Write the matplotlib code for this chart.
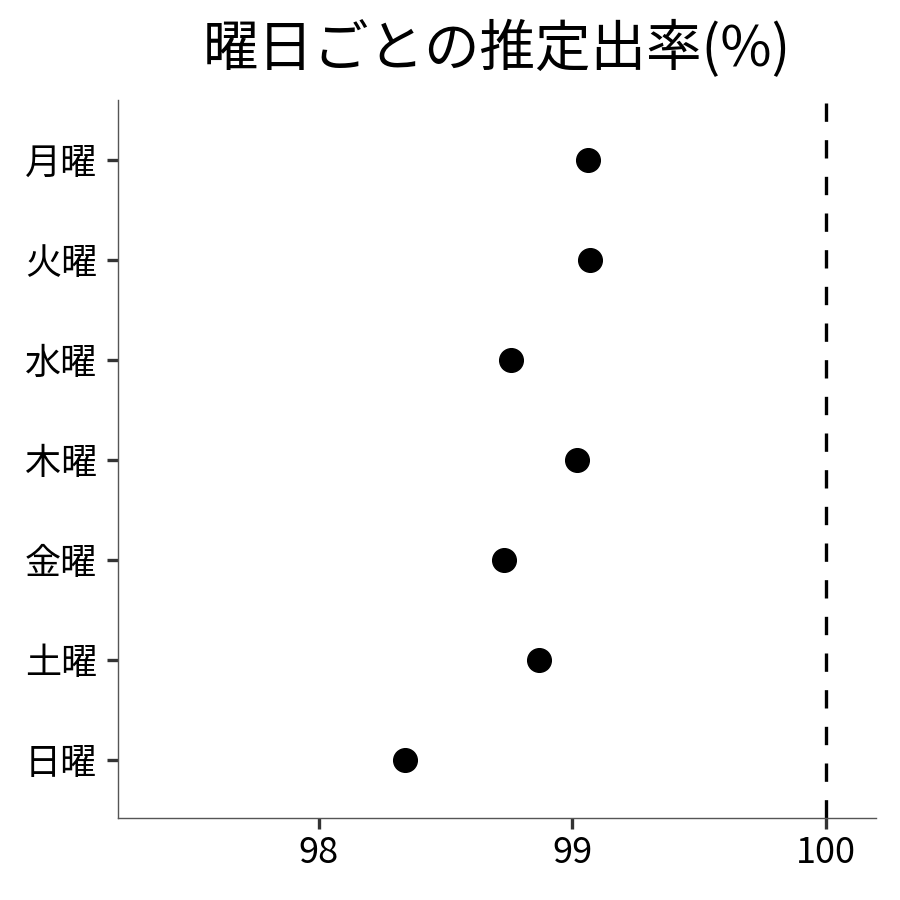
import matplotlib
matplotlib.use("Agg")
import matplotlib.pyplot as plt

plt.rcParams['font.family'] = ['Noto Sans CJK JP', 'DejaVu Sans']

days = ['月曜', '火曜', '水曜', '木曜', '金曜', '土曜', '日曜']
rates = [99.06, 99.07, 98.76, 99.02, 98.73, 98.87, 98.34]
x_ticks = [98, 99, 100]

fig, ax = plt.subplots(figsize=(9, 9), dpi=100)
fig.subplots_adjust(left=0.131, right=0.973, top=0.889, bottom=0.091)

ypos = list(range(len(days)))
ax.scatter(rates, ypos, s=290, color='black', zorder=3)
ax.axvline(100, color='black', lw=2.4, ls=(0, (5.5, 5.5)))

ax.set_yticks(ypos)
ax.set_yticklabels(days)
ax.set_xticks(x_ticks)
ax.set_xticklabels([str(v) for v in x_ticks])
ax.set_xlim(97.207, 100.197)
ax.set_ylim(6.58, -0.6)

for side in ['top', 'right']:
    ax.spines[side].set_visible(False)
for side in ['left', 'bottom']:
    ax.spines[side].set_color('#555555')
    ax.spines[side].set_linewidth(1)
ax.tick_params(axis='both', length=8, width=2.4, color='#333333',
               labelsize=26, labelcolor='black', pad=4)
ax.tick_params(axis='y', pad=7)

ax.set_title('曜日ごとの推定出率(%)', fontsize=40, pad=24)

fig.savefig('out.png', dpi=100)
